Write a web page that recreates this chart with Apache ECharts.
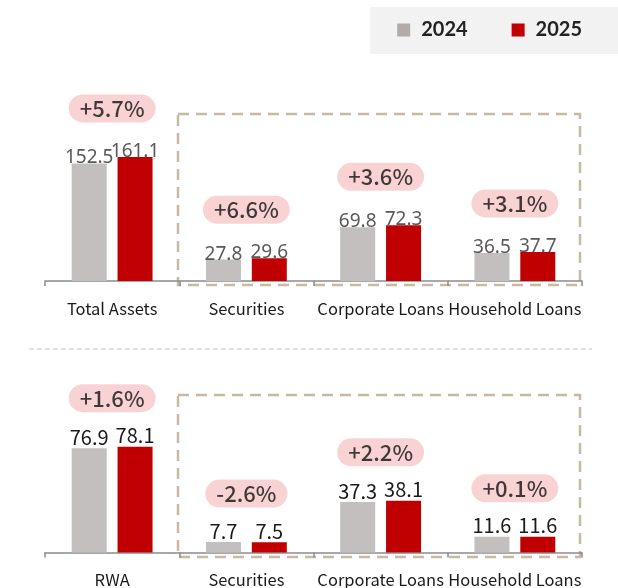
<html>
<head>
<meta charset="UTF-8">
<script src="https://cdn.jsdelivr.net/npm/echarts@6/dist/echarts.min.js"></script>
<style>
html,body{margin:0;padding:0;background:#fff;}
#main{width:618px;height:588px;}
</style>
</head>
<body>
<div id="main"></div>
<script>
// top panel
var topCats = ['Total Assets', 'Securities', 'Corporate Loans', 'Household Loans'];
var top2024 = [152.5, 27.8, 69.8, 36.5];
var top2025 = [161.1, 29.6, 72.3, 37.7];
var topChange = ['+5.7%', '+6.6%', '+3.6%', '+3.1%'];

// bottom panel
var botCats = ['RWA', 'Securities', 'Corporate Loans', 'Household Loans'];
var bot2024 = [76.9, 7.7, 37.3, 11.6];
var bot2025 = [78.1, 7.5, 38.1, 11.6];
var botChange = ['+1.6%', '-2.6%', '+2.2%', '+0.1%'];

var GRAY = '#c3bfbe';
var RED = '#c00000';
var CJK = '"Noto Sans CJK KR", "Noto Sans", sans-serif';

function pillData(a, b) {
    return a.map(function (v, i) { return [i, Math.max(v, b[i])]; });
}

function xAxisFor(cats, idx) {
    return {
        type: 'category', gridIndex: idx, data: cats,
        axisLine: {lineStyle: {color: '#8c8c8c', width: 1.5}},
        axisTick: {show: true, length: 5, lineStyle: {color: '#8c8c8c', width: 1.5}},
        axisLabel: {interval: 0, margin: 19, fontSize: 16.5, color: '#1a1a1a', fontFamily: CJK}
    };
}

function pillSeries(idx, a, b, labels) {
    return {
        type: 'scatter', xAxisIndex: idx, yAxisIndex: idx,
        data: pillData(a, b), symbolSize: 1, z: 5,
        itemStyle: {color: 'rgba(0,0,0,0)'},
        label: {
            show: true, position: 'top', distance: 34,
            formatter: function (p) { return labels[p.dataIndex]; },
            fontSize: 22, fontWeight: 500, fontFamily: CJK, color: '#111', lineHeight: 28,
            backgroundColor: '#f8c8c8', borderRadius: 14, padding: [0, 11]
        }
    };
}

var myChart = echarts.init(document.getElementById('main'));

option = {
    animation: false,
    legend: {
        orient: 'horizontal',
        right: 0, top: 7,
        padding: [13, 36, 14, 27],
        backgroundColor: '#f2f2f2',
        itemWidth: 13, itemHeight: 13, itemGap: 44,
        icon: 'rect',
        textStyle: {fontSize: 20, fontWeight: 'bold', color: '#222', fontFamily: 'Lato, "Noto Sans", sans-serif', padding: [0, 0, 0, 6]},
        data: [{name: '2024', itemStyle: {color: '#b1acaa'}}, {name: '2025'}]
    },
    grid: [
        {left: 45, right: 36, top: 127, bottom: 307},
        {left: 45, right: 36, top: 417, bottom: 35}
    ],
    xAxis: [xAxisFor(topCats, 0), xAxisFor(botCats, 1)],
    yAxis: [
        {type: 'value', gridIndex: 0, min: 0, max: 200, show: false},
        {type: 'value', gridIndex: 1, min: 0, max: 100, show: false}
    ],
    series: [
        {
            name: '2024', type: 'bar', xAxisIndex: 0, yAxisIndex: 0, data: top2024,
            barWidth: 35, barGap: '31%', itemStyle: {color: GRAY},
            label: {show: true, position: 'top', distance: -4, fontSize: 19, lineHeight: 19, color: '#595959', fontFamily: '"Noto Sans", sans-serif'}
        },
        {
            name: '2025', type: 'bar', xAxisIndex: 0, yAxisIndex: 0, data: top2025,
            barWidth: 35, barGap: '31%', itemStyle: {color: RED},
            label: {show: true, position: 'top', distance: -4, fontSize: 19, lineHeight: 19, color: '#595959', fontFamily: '"Noto Sans", sans-serif'}
        },
        pillSeries(0, top2024, top2025, topChange),
        {
            name: '2024', type: 'bar', xAxisIndex: 1, yAxisIndex: 1, data: bot2024,
            barWidth: 35, barGap: '31%', itemStyle: {color: GRAY},
            label: {show: true, position: 'top', distance: 1, fontSize: 20, lineHeight: 20, color: '#1a1a1a', fontFamily: CJK}
        },
        {
            name: '2025', type: 'bar', xAxisIndex: 1, yAxisIndex: 1, data: bot2025,
            barWidth: 35, barGap: '31%', itemStyle: {color: RED},
            label: {show: true, position: 'top', distance: 1, fontSize: 20, lineHeight: 20, color: '#1a1a1a', fontFamily: CJK}
        },
        pillSeries(1, bot2024, bot2025, botChange)
    ],
    graphic: [
        // dashed boxes round the breakdown groups
        {type: 'rect', shape: {x: 178, y: 114, width: 402, height: 171}, silent: true, z: -1,
         style: {fill: 'none', stroke: '#c8b9a5', lineWidth: 2.5, lineDash: [11, 7]}},
        {type: 'rect', shape: {x: 178, y: 395, width: 402, height: 162}, silent: true, z: -1,
         style: {fill: 'none', stroke: '#c8b9a5', lineWidth: 2.5, lineDash: [11, 7]}},
        // separator between panels
        {type: 'line', shape: {x1: 29, y1: 349, x2: 592, y2: 349}, silent: true,
         style: {stroke: '#d9d9d9', lineWidth: 1.5, lineDash: [5, 3]}}
    ]
};

myChart.setOption(option);
</script>
</body>
</html>
